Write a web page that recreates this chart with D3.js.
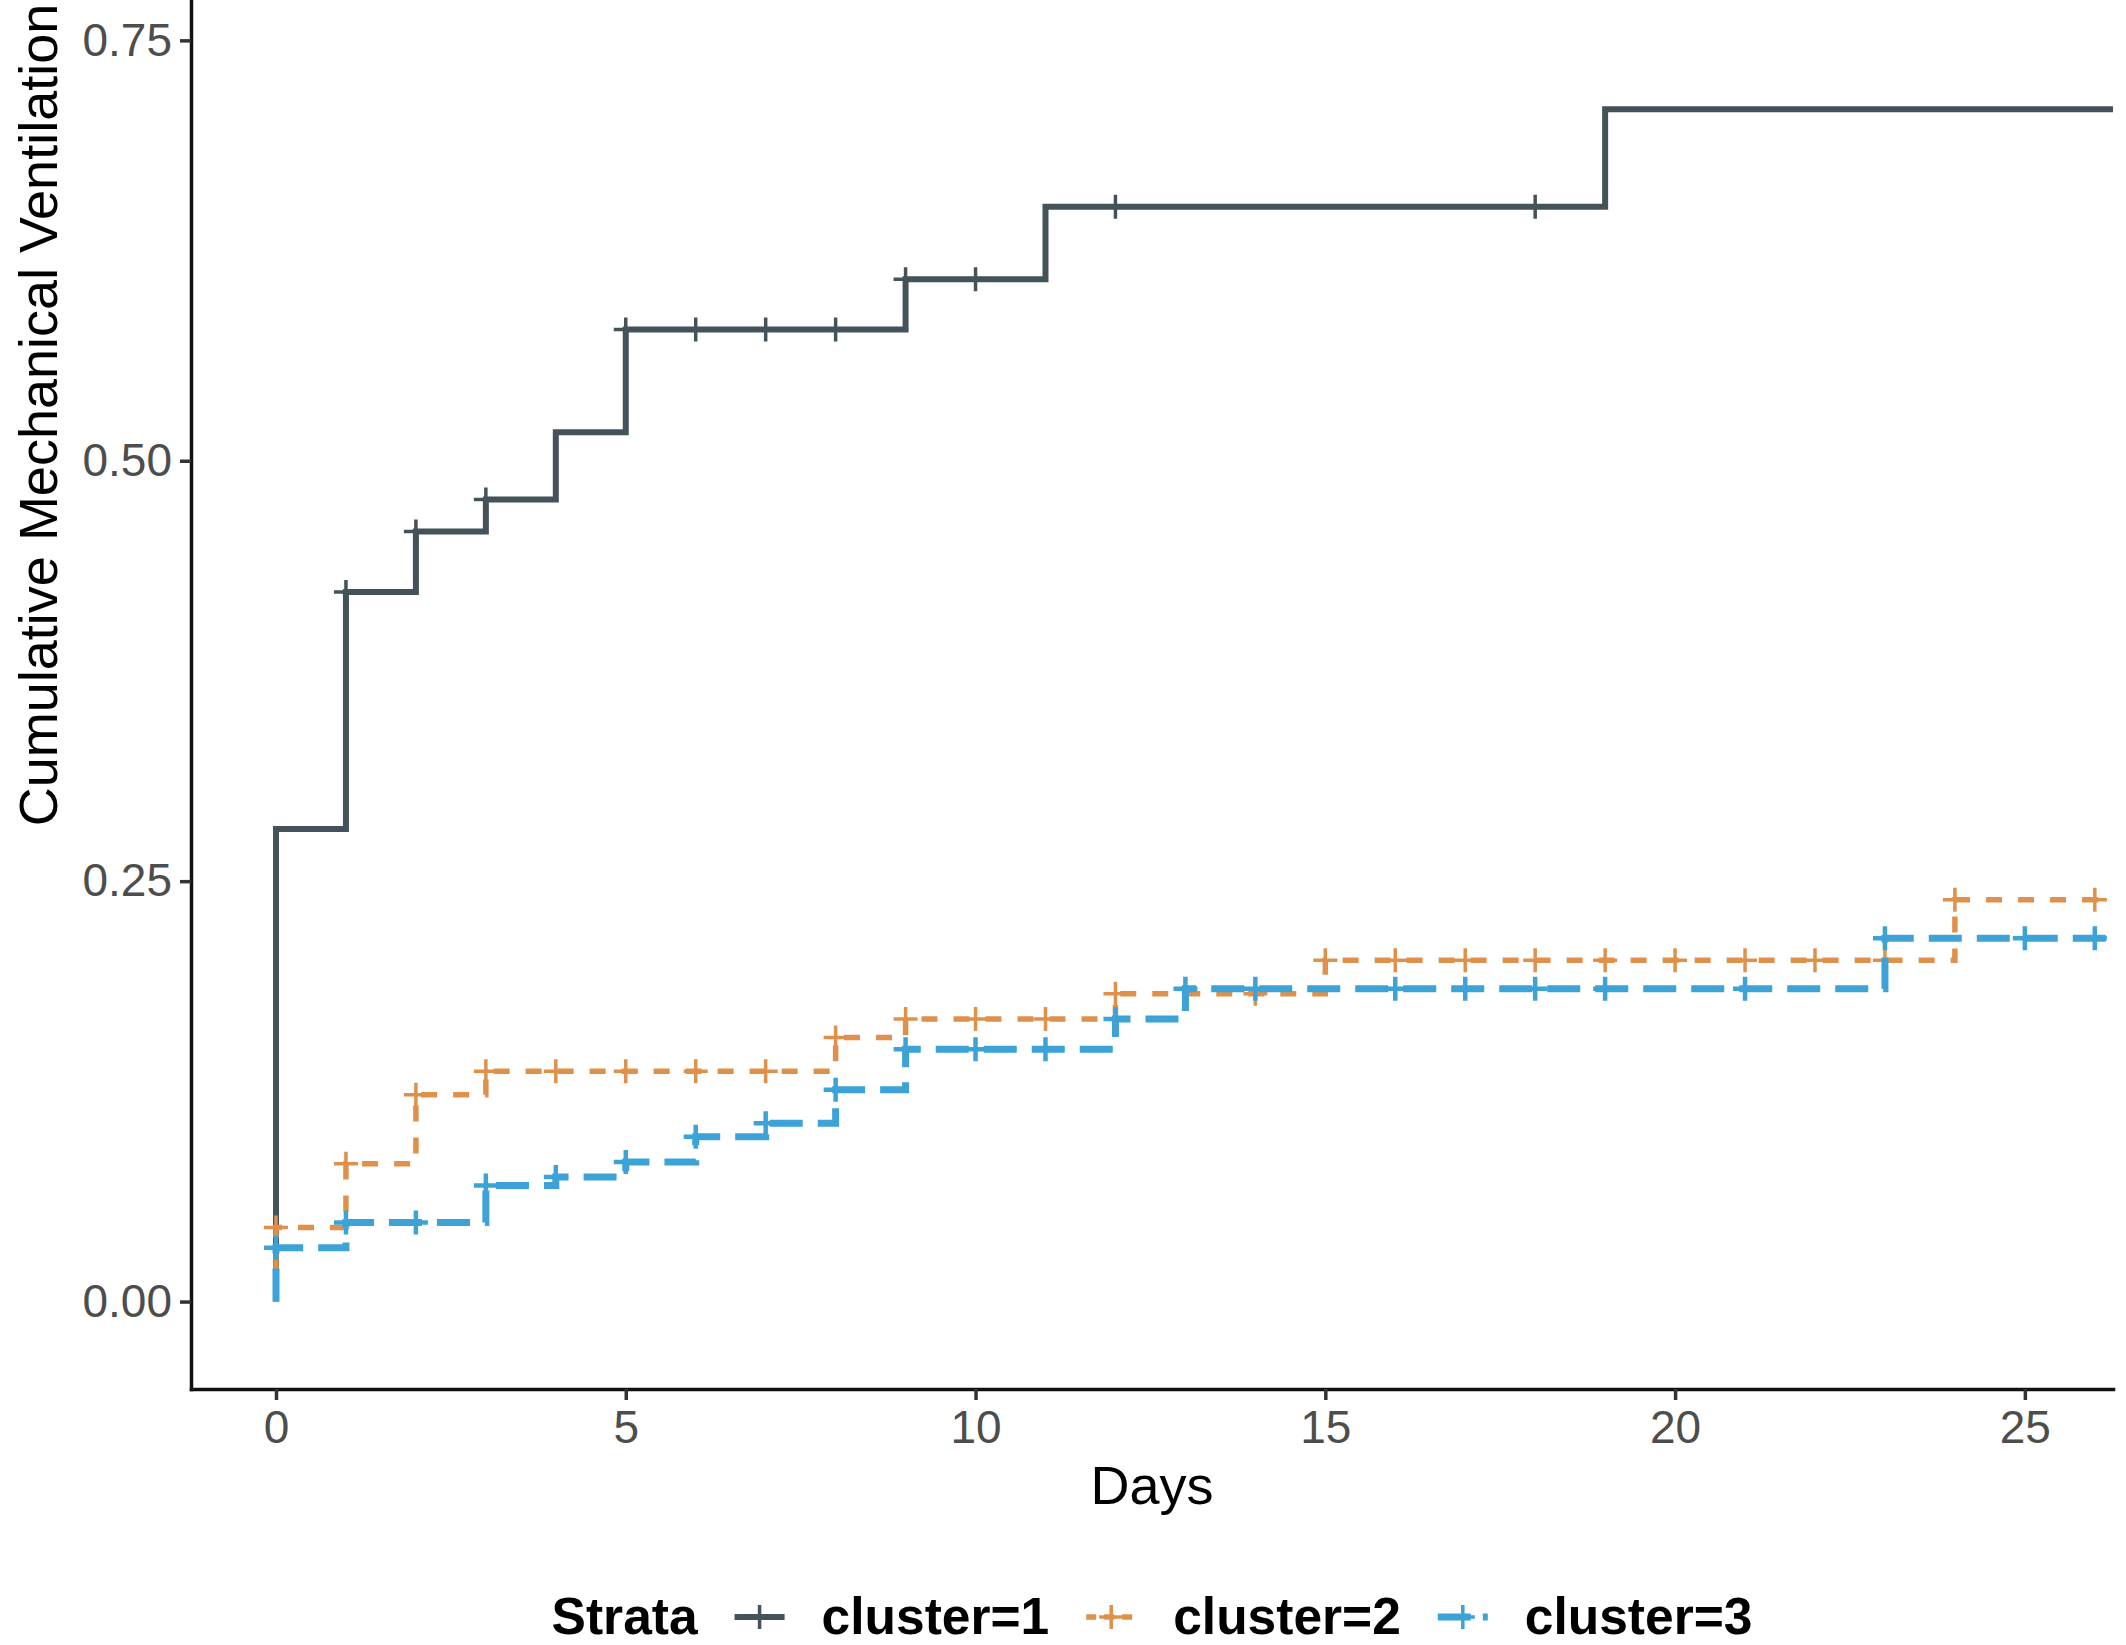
<!DOCTYPE html>
<html>
<head>
<meta charset="utf-8">
<script src="https://cdn.jsdelivr.net/npm/d3@7"></script>
<style>
  body { margin: 0; background: #fff; }
  text { font-family: "Liberation Sans", Arial, Helvetica, sans-serif; }
  .axis text { fill: #4d4d4d; font-size: 46px; }
  .axis line { stroke: #333; stroke-width: 3.5; }
  .axis path { stroke: #111; stroke-width: 3.5; }
  .title { font-size: 54px; fill: #000; }
  .legend text { font-size: 51.5px; font-weight: bold; fill: #000; }
</style>
</head>
<body>
<div id="chart"></div>
<script>
// Strata names and their look
const strata = ["cluster=1", "cluster=2", "cluster=3"];
const colors = ["#435359", "#df914b", "#3da3d6"];
const dashes = [null, "16,16", "33,15"];
const widths = [6, 5.5, 7];

// Step times (days) and cumulative value reached at each step
const days1 = [0, 1, 2, 3, 4, 5, 9, 11, 19];
const cum1 = [0.281, 0.422, 0.458, 0.477, 0.517, 0.578, 0.608, 0.651, 0.709];
const days2 = [0, 1, 2, 3, 8, 9, 12, 15, 24];
const cum2 = [0.044, 0.082, 0.123, 0.137, 0.157, 0.168, 0.183, 0.203, 0.239];
const days3 = [0, 1, 3, 4, 5, 6, 7, 8, 9, 12, 13, 23];
const cum3 = [0.032, 0.047, 0.069, 0.074, 0.083, 0.098, 0.106, 0.126, 0.150, 0.168, 0.186, 0.216];

// Censoring times (the "+" marks)
const cens1 = [1, 2, 3, 5, 6, 7, 8, 9, 10, 12, 18];
const cens2 = [0, 1, 2, 3, 4, 5, 6, 7, 8, 9, 10, 11, 12, 14, 15, 16, 17, 18, 19, 20, 21, 22, 23, 24, 26];
const cens3 = [0, 1, 2, 3, 4, 5, 6, 7, 8, 9, 10, 11, 12, 13, 14, 16, 17, 18, 19, 21, 23, 25, 26];

// Axis ticks
const xTicks = [0, 5, 10, 15, 20, 25];
const yTicks = [0, 0.25, 0.5, 0.75];

const series = [
  { name: strata[0], days: days1, cum: cum1, cens: cens1 },
  { name: strata[1], days: days2, cum: cum2, cens: cens2 },
  { name: strata[2], days: days3, cum: cum3, cens: cens3 }
];

// Figure size and panel margins
const fWidth = 2126, fHeight = 1645;
const ml = 191, mt = 0, mr = 13, mb = 256;
const width = fWidth - ml - mr, height = fHeight - mt - mb;

const svg = d3.select("#chart").append("svg")
  .attr("width", fWidth)
  .attr("height", fHeight);

const g = svg.append("g").attr("transform", `translate(${ml}, ${mt})`);

const x = d3.scaleLinear().domain([-1.215, 26.26]).range([0, width]);
const y = d3.scaleLinear().domain([-0.052, 0.774]).range([height, 0]);

g.append("clipPath").attr("id", "panel")
  .append("rect").attr("width", width).attr("height", height);

// value of a curve at time t (after any step at t)
function valueAt(s, t) {
  const i = d3.bisectRight(s.days, t) - 1;
  return i < 0 ? 0 : s.cum[i];
}

const stepLine = d3.line()
  .x(d => x(d[0]))
  .y(d => y(d[1]))
  .curve(d3.curveStepAfter);

const curves = g.append("g").attr("clip-path", "url(#panel)");

series.forEach((s, k) => {
  const pts = [[0, 0]].concat(s.days.map((t, i) => [t, s.cum[i]]));
  pts.push([x.domain()[1], s.cum[s.cum.length - 1]]);

  curves.append("path")
    .datum(pts)
    .attr("d", stepLine)
    .attr("fill", "none")
    .attr("stroke", colors[k])
    .attr("stroke-width", widths[k])
    .attr("stroke-dasharray", dashes[k]);

  curves.selectAll(null)
    .data(s.cens)
    .join("path")
    .attr("d", t => {
      const cx = x(t), cy = y(valueAt(s, t));
      return `M${cx - 12},${cy}h24M${cx},${cy - 12}v24`;
    })
    .attr("stroke", colors[k])
    .attr("stroke-width", k === 2 ? 4.5 : 3.5)
    .attr("fill", "none");
});

// Axes
g.append("g")
  .attr("class", "axis")
  .attr("transform", `translate(0, ${height})`)
  .call(d3.axisBottom(x).tickValues(xTicks).tickSize(11).tickSizeOuter(0).tickPadding(10))
  .call(a => a.select(".domain").attr("stroke-linecap", "square"));

g.append("g")
  .attr("class", "axis")
  .call(d3.axisLeft(y).tickValues(yTicks).tickFormat(d3.format(".2f")).tickSize(11).tickSizeOuter(0).tickPadding(8))
  .call(a => a.select(".domain").attr("stroke-linecap", "square"));

// Axis titles
g.append("text")
  .attr("class", "title")
  .attr("x", width / 2)
  .attr("y", 1504 - mt)
  .attr("text-anchor", "middle")
  .text("Days");

svg.append("text")
  .attr("class", "title")
  .attr("transform", "translate(57, 415) rotate(-90)")
  .attr("text-anchor", "middle")
  .text("Cumulative Mechanical Ventilation");

// Legend
const legend = svg.append("g").attr("class", "legend");
const keyW = 50, gap = 37, baseY = 1634, keyY = 1617;
let cursor = 0;
const title = legend.append("text").attr("x", cursor).attr("y", baseY).text("Strata");
cursor += title.node().getComputedTextLength();

strata.forEach((name, k) => {
  cursor += gap;
  const key = legend.append("g").attr("transform", `translate(${cursor}, ${keyY})`);
  key.append("line")
    .attr("x1", 0).attr("x2", keyW)
    .attr("stroke", colors[k])
    .attr("stroke-width", widths[k])
    .attr("stroke-dasharray", k === 1 ? "10,8" : k === 2 ? "33,12" : null);
  key.append("path")
    .attr("d", `M${keyW / 2 - 12},0h24M${keyW / 2},-12v24`)
    .attr("stroke", colors[k])
    .attr("stroke-width", 3.5);
  cursor += keyW + gap;
  const t = legend.append("text").attr("x", cursor).attr("y", baseY).text(name);
  cursor += t.node().getComputedTextLength();
});

legend.attr("transform", `translate(${ml + width / 2 - cursor / 2}, 0)`);
</script>
</body>
</html>
